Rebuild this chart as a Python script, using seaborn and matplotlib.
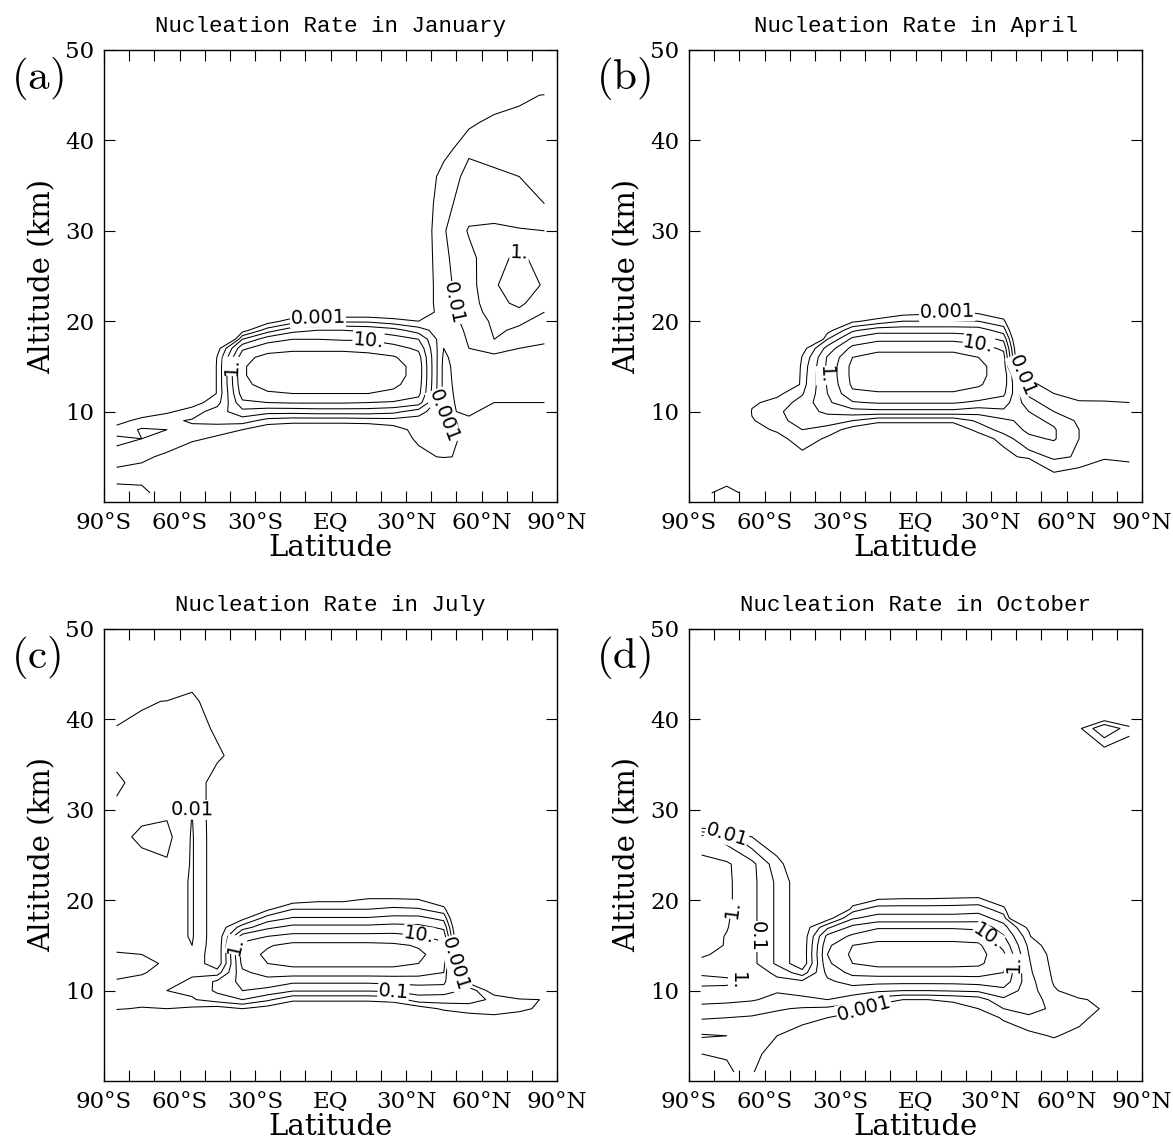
import numpy as np
import matplotlib
matplotlib.use("Agg")
import matplotlib.pyplot as plt
from matplotlib.ticker import MultipleLocator
import seaborn as sns

# ---------------- data (log10 of nucleation rate) ----------------
E = -8.0  # below the plotted range (no contour)

latitudes = [-85, -75, -65, -55, -45, -35, -25, -15, -5, 5, 15, 25, 35, 45, 55, 65, 75, 85]
altitudes_km = [1, 3, 5, 7, 8, 9, 10, 11, 12, 13, 14, 15, 16, 17, 18, 19, 20, 21, 22,
                24, 27, 30, 33, 36, 39, 42, 45, 48]

contour_levels = [-3, -2, -1, 0, 1, 2]
contour_labels = ["0.001", "0.01", "0.1", "1.", "10.", "100."]

x_tick_values = [-90, -60, -30, 0, 30, 60, 90]
x_tick_labels = ["90°S", "60°S", "30°S", "EQ", "30°N", "60°N", "90°N"]
y_tick_values = [10, 20, 30, 40, 50]

months = ["January", "April", "July", "October"]
panel_tags = ["(a)", "(b)", "(c)", "(d)"]

jan_log10_rate = [
    [-2.5, -2.7, -3.6, E, E, E, E, E, E, E, E, E, E, E, E, E, E, E],
    [-3.5, -3.4, -3.8, E, E, E, E, E, E, E, E, E, E, E, E, E, E, E],
    [-2.3, -2.8, -3.2, -4.0, E, E, E, E, E, E, E, E, -3.5, -2.8, -3.4, E, E, E],
    [-1.8, -2.0, -2.4, -2.8, -3.2, -3.8, E, E, E, E, E, -4.0, -2.7, -2.6, -3.3, E, E, E],
    [-2.5, -1.9, -2.0, -2.2, -2.6, -3.0, -3.8, -4.0, -4.0, -4.0, -4.0, -3.5, -2.6, -2.7, -3.2, -3.6, -3.6, -3.6],
    [-3.5, -2.6, -2.2, -1.9, -1.6, -1.5, -2.4, -2.6, -2.6, -2.6, -2.5, -2.4, -2.5, -2.9, -3.1, -3.4, -3.3, -3.3],
    [E, -3.8, -3.2, -2.5, -1.5, -0.3, -0.6, -0.6, -0.5, -0.5, -0.5, -0.7, -1.5, -3.1, -2.9, -3.2, -3.2, -3.2],
    [E, E, -4.0, -3.5, -2.4, 0.8, 1.0, 1.1, 1.1, 1.1, 1.0, 0.9, 0.5, -3.3, -2.6, -3.0, -3.0, -3.0],
    [E, E, E, E, -2.8, 1.5, 1.9, 2.0, 2.0, 2.0, 2.0, 1.8, 1.3, -3.3, -2.5, -2.8, -2.8, -2.9],
    [E, E, E, E, -2.8, 1.8, 2.3, 2.4, 2.4, 2.4, 2.4, 2.2, 1.5, -3.3, -2.4, -2.7, -2.8, -2.8],
    [E, E, E, E, -2.8, 1.9, 2.5, 2.6, 2.6, 2.6, 2.6, 2.4, 1.6, -3.3, -2.3, -2.6, -2.7, -2.7],
    [E, E, E, E, -2.8, 1.9, 2.5, 2.6, 2.6, 2.6, 2.6, 2.4, 1.6, -3.3, -2.2, -2.5, -2.6, -2.6],
    [E, E, E, E, -2.9, 1.7, 2.3, 2.4, 2.4, 2.4, 2.3, 2.1, 1.4, -3.2, -2.1, -2.3, -2.5, -2.5],
    [E, E, E, E, -3.5, 0.8, 1.6, 1.8, 1.8, 1.8, 1.7, 1.4, 0.8, -3.0, -2.0, -1.5, -2.0, -2.2],
    [E, E, E, E, E, -1.0, 0.6, 1.0, 1.0, 0.9, 0.9, 0.5, 0.0, -2.8, -1.9, -1.0, -1.4, -1.8],
    [E, E, E, E, E, -3.5, -1.5, -0.3, 0.0, 0.0, -0.2, -0.6, -1.5, -2.7, -1.8, -0.9, -1.1, -1.5],
    [E, E, E, E, E, E, -3.5, -2.5, -2.5, -2.2, -2.2, -2.6, -3.0, -2.5, -1.7, -0.8, -0.9, -1.2],
    [E, E, E, E, E, E, E, -4.0, -3.8, -4.0, -4.0, -4.0, -4.0, -2.4, -1.6, -0.5, -0.2, -1.0],
    [E, E, E, E, E, E, E, E, E, E, E, E, -4.0, -2.3, -1.5, -0.3, 0.2, -0.6],
    [E, E, E, E, E, E, E, E, E, E, E, E, -4.0, -2.3, -1.4, -0.1, 0.5, -0.1],
    [E, E, E, E, E, E, E, E, E, E, E, E, -4.0, -2.2, -1.3, -0.3, 0.2, -0.4],
    [E, E, E, E, E, E, E, E, E, E, E, E, -4.0, -2.1, -0.9, -0.7, -0.9, -1.0],
    [E, E, E, E, E, E, E, E, E, E, E, E, -4.0, -2.3, -1.5, -1.8, -1.9, -2.0],
    [E, E, E, E, E, E, E, E, E, E, E, E, -4.5, -2.4, -1.8, -1.9, -2.0, -2.1],
    [E, E, E, E, E, E, E, E, E, E, E, E, E, -3.5, -2.1, -2.2, -2.2, -2.1],
    [E, E, E, E, E, E, E, E, E, E, E, E, E, E, -3.3, -2.6, -2.4, -2.3],
    [E, E, E, E, E, E, E, E, E, E, E, E, E, E, E, -4.0, -3.4, -2.9],
    [E, E, E, E, E, E, E, E, E, E, E, E, E, E, E, E, E, E],
]

apr_log10_rate = [
    [-3.2, -2.7, -3.3, E, E, E, E, E, E, E, E, E, E, E, E, E, E, E],
    [E, -3.5, E, E, E, E, E, E, E, E, E, E, E, E, -3.2, -3.6, E, -4.0],
    [E, E, E, E, -3.4, E, E, E, E, E, E, E, -3.6, -2.5, -1.8, -2.1, -2.2, -2.6],
    [E, E, E, -3.5, -2.3, -3.2, E, E, E, E, E, -3.8, -2.5, -1.2, -0.9, -2.0, -2.2, -2.3],
    [E, E, -3.5, -2.8, -2.0, -2.4, -3.5, -4.0, -4.0, -4.0, -4.0, -2.6, -1.6, -0.8, -0.9, -2.0, -2.2, -2.4],
    [E, E, -3.1, -2.3, -1.6, -1.5, -2.0, -2.7, -2.7, -2.7, -2.7, -1.8, -1.2, -0.7, -1.2, -2.2, -2.4, -2.5],
    [E, E, -2.9, -2.2, -1.4, -0.8, -0.4, -0.3, -0.3, -0.3, -0.3, -0.6, -0.2, -1.0, -2.0, -2.6, -2.7, -2.8],
    [E, E, -3.2, -2.6, -1.6, -0.2, 0.9, 1.1, 1.1, 1.1, 1.1, 0.8, 0.5, -1.6, -2.6, -2.9, -2.9, -3.0],
    [E, E, E, -3.3, -2.1, 0.0, 1.8, 1.9, 1.9, 1.9, 1.9, 1.7, 1.2, -2.2, -3.0, -3.4, -3.5, -3.6],
    [E, E, E, E, -2.4, 0.1, 2.2, 2.4, 2.4, 2.4, 2.4, 2.1, 1.5, -2.7, -3.5, E, E, E],
    [E, E, E, E, -2.5, 0.2, 2.3, 2.6, 2.6, 2.6, 2.6, 2.2, 1.6, -3.3, E, E, E, E],
    [E, E, E, E, -2.6, 0.2, 2.3, 2.6, 2.6, 2.6, 2.6, 2.2, 1.6, E, E, E, E, E],
    [E, E, E, E, -2.9, 0.1, 2.0, 2.4, 2.4, 2.4, 2.4, 2.0, 1.4, E, E, E, E, E],
    [E, E, E, E, -3.5, -0.6, 1.3, 1.7, 1.7, 1.7, 1.7, 1.5, 0.8, E, E, E, E, E],
    [E, E, E, E, E, -2.0, 0.3, 0.8, 0.8, 0.8, 0.8, 0.5, -0.2, E, E, E, E, E],
    [E, E, E, E, E, -3.5, -1.2, -0.4, -0.4, -0.4, -0.4, -0.5, -1.5, E, E, E, E, E],
    [E, E, E, E, E, E, -3.2, -2.6, -2.0, -2.0, -2.0, -2.0, -2.7, E, E, E, E, E],
    [E, E, E, E, E, E, E, -4.0, -3.5, -3.3, -2.9, -3.2, -4.0, E, E, E, E, E],
    [E, E, E, E, E, E, E, E, E, E, E, E, E, E, E, E, E, E],
    [E, E, E, E, E, E, E, E, E, E, E, E, E, E, E, E, E, E],
    [E, E, E, E, E, E, E, E, E, E, E, E, E, E, E, E, E, E],
    [E, E, E, E, E, E, E, E, E, E, E, E, E, E, E, E, E, E],
    [E, E, E, E, E, E, E, E, E, E, E, E, E, E, E, E, E, E],
    [E, E, E, E, E, E, E, E, E, E, E, E, E, E, E, E, E, E],
    [E, E, E, E, E, E, E, E, E, E, E, E, E, E, E, E, E, E],
    [E, E, E, E, E, E, E, E, E, E, E, E, E, E, E, E, E, E],
    [E, E, E, E, E, E, E, E, E, E, E, E, E, E, E, E, E, E],
    [E, E, E, E, E, E, E, E, E, E, E, E, E, E, E, E, E, E],
]

jul_log10_rate = [
    [E, E, E, E, E, E, E, E, E, E, E, E, E, E, E, E, E, E],
    [E, E, E, E, E, E, E, E, E, E, E, E, E, E, E, E, E, E],
    [E, E, E, E, E, E, E, E, E, E, E, E, E, E, E, E, E, E],
    [-4.0, -4.0, E, E, -4.0, -4.0, E, E, E, E, E, E, E, -4.0, -3.5, -3.2, -3.4, -4.0],
    [-2.9, -3.1, -3.0, -3.2, -3.5, -3.0, -3.5, -4.0, -4.0, -4.0, -4.0, -4.0, -3.6, -2.8, -2.5, -2.6, -2.8, -3.2],
    [-2.7, -2.5, -2.3, -2.1, -1.5, -1.0, -1.8, -2.8, -2.8, -2.8, -2.8, -2.6, -1.4, -1.5, -1.6, -2.2, -2.6, -3.1],
    [-2.6, -2.3, -2.0, -1.8, -0.8, 0.0, -0.3, -0.9, -0.9, -0.9, -0.9, -0.8, -0.6, -0.6, -1.2, -3.8, E, E],
    [-2.9, -2.7, -2.2, -1.9, -0.8, 0.3, 0.6, 0.2, 0.2, 0.2, 0.2, 0.3, 0.4, 0.3, -3.5, E, E, E],
    [-3.3, -3.1, -2.6, -2.1, -2.5, 0.8, 1.4, 1.5, 1.5, 1.5, 1.5, 1.5, 1.4, 1.0, E, E, E, E],
    [-3.3, -3.2, -2.9, -2.2, -3.8, 1.3, 2.0, 2.3, 2.3, 2.3, 2.3, 2.3, 2.0, 1.4, E, E, E, E],
    [-3.1, -3.0, -2.8, -2.2, -3.8, 1.5, 2.2, 2.6, 2.6, 2.6, 2.6, 2.5, 2.2, 1.5, E, E, E, E],
    [-2.7, -2.6, -2.6, -2.0, -3.8, 1.3, 1.9, 2.3, 2.3, 2.3, 2.3, 2.2, 1.9, 1.3, E, E, E, E],
    [-2.6, -2.5, -2.5, -1.9, -3.8, 0.5, 1.0, 1.3, 1.3, 1.3, 1.3, 1.3, 1.1, 0.6, E, E, E, E],
    [-2.6, -2.5, -2.5, -1.9, -3.8, -1.5, -0.2, 0.3, 0.3, 0.3, 0.3, 0.4, 0.3, -0.2, E, E, E, E],
    [-2.6, -2.5, -2.5, -1.9, -3.8, -3.3, -1.5, -0.9, -0.9, -0.9, -0.9, -0.7, -0.7, -1.3, E, E, E, E],
    [-2.6, -2.5, -2.5, -1.9, -3.8, E, -3.2, -2.0, -2.0, -2.0, -2.0, -1.8, -1.9, -2.6, E, E, E, E],
    [-2.6, -2.5, -2.5, -1.9, -3.8, E, E, -3.5, -3.2, -3.2, -2.8, -2.8, -2.9, -4.0, E, E, E, E],
    [-2.6, -2.5, -2.5, -1.9, -3.8, E, E, E, E, E, -4.0, -4.0, -4.0, E, E, E, E, E],
    [-2.6, -2.5, -2.5, -1.9, -3.8, E, E, E, E, E, E, E, E, E, E, E, E, E],
    [-2.6, -2.7, -2.9, -1.9, -3.8, E, E, E, E, E, E, E, E, E, E, E, E, E],
    [-2.7, -3.2, -3.3, -1.9, -3.8, E, E, E, E, E, E, E, E, E, E, E, E, E],
    [-2.8, -2.7, -2.8, -2.0, -3.8, E, E, E, E, E, E, E, E, E, E, E, E, E],
    [-3.2, -2.6, -2.2, -2.0, -3.8, E, E, E, E, E, E, E, E, E, E, E, E, E],
    [-2.7, -2.5, -2.6, -2.3, -2.7, -3.8, E, E, E, E, E, E, E, E, E, E, E, E],
    [-2.9, -2.4, -2.3, -2.2, -3.3, E, E, E, E, E, E, E, E, E, E, E, E, E],
    [-4.0, -3.3, -2.9, -2.6, -4.0, E, E, E, E, E, E, E, E, E, E, E, E, E],
    [E, E, E, -3.8, E, E, E, E, E, E, E, E, E, E, E, E, E, E],
    [E, E, E, E, E, E, E, E, E, E, E, E, E, E, E, E, E, E],
]

oct_log10_rate = [
    [-1.9, -1.8, -2.5, E, E, E, E, E, E, E, E, E, E, E, E, E, E, E],
    [-2.0, -2.1, -2.6, -3.6, E, E, E, E, E, E, E, E, E, E, -3.8, E, E, E],
    [-3.1, -3.0, -2.8, -3.0, -3.6, E, E, E, E, E, E, E, -4.0, -3.3, -2.9, -3.4, E, E],
    [-1.9, -2.0, -2.1, -2.3, -2.6, -3.0, -3.5, E, E, E, E, -4.0, -2.8, -2.2, -2.3, -2.6, -3.6, E],
    [-1.4, -1.5, -1.6, -1.9, -2.1, -2.2, -2.6, -3.5, -4.0, -4.0, -3.5, -3.0, -2.0, -1.6, -2.2, -2.6, -3.1, E],
    [-0.6, -0.7, -0.9, -1.3, -1.2, -1.0, -1.5, -2.5, -3.0, -3.0, -2.8, -2.5, -1.2, -1.4, -2.5, -2.9, -3.2, E],
    [-0.2, -0.2, -0.4, -0.9, -0.7, -0.6, -0.5, -0.8, -1.0, -1.0, -0.9, -0.8, -0.3, -1.5, -2.9, -3.5, E, E],
    [0.2, 0.15, -0.2, -0.8, -0.8, -0.2, 0.4, 0.3, 0.3, 0.3, 0.3, 0.4, 0.6, -1.6, -3.1, E, E, E],
    [-0.1, -0.2, -0.5, -1.2, -2.6, 0.3, 1.3, 1.5, 1.5, 1.5, 1.5, 1.5, 1.0, -1.8, -3.2, E, E, E],
    [-0.2, -0.3, -0.7, -2.2, -3.8, 0.8, 2.0, 2.3, 2.3, 2.3, 2.3, 2.2, 1.3, -1.9, -3.3, E, E, E],
    [0.1, -0.2, -0.7, -2.2, -3.8, 1.0, 2.2, 2.5, 2.5, 2.5, 2.5, 2.4, 1.2, -2.0, -3.4, E, E, E],
    [0.3, -0.05, -0.7, -2.2, -3.8, 0.8, 2.0, 2.3, 2.3, 2.3, 2.3, 2.2, 0.7, -2.2, -3.8, E, E, E],
    [0.4, -0.05, -0.7, -2.2, -3.8, 0.3, 1.2, 1.6, 1.6, 1.6, 1.6, 1.5, 0.1, -2.6, E, E, E, E],
    [0.4, 0.05, -0.7, -2.2, -3.8, -1.2, 0.3, 0.9, 0.9, 0.9, 0.9, 0.8, -0.6, -3.3, E, E, E, E],
    [0.4, 0.1, -0.7, -2.2, -3.8, -3.5, -1.1, -0.6, -0.6, -0.6, -0.6, -0.5, -1.5, E, E, E, E, E],
    [0.4, 0.2, -0.7, -2.2, -3.8, E, -2.4, -1.5, -1.5, -1.5, -1.5, -1.4, -2.6, E, E, E, E, E],
    [0.4, 0.2, -0.7, -2.2, -3.8, E, -4.0, -2.9, -2.8, -2.8, -2.7, -2.6, -4.0, E, E, E, E, E],
    [0.4, 0.2, -0.7, -2.2, -3.8, E, E, -4.0, -4.0, -4.0, -4.0, -4.0, E, E, E, E, E, E],
    [0.4, 0.2, -0.7, -2.2, -3.8, E, E, E, E, E, E, E, E, E, E, E, E, E],
    [0.3, 0.15, -0.7, -2.6, -4.2, E, E, E, E, E, E, E, E, E, E, E, E, E],
    [-0.6, -1.5, -3.0, -4.0, E, E, E, E, E, E, E, E, E, E, E, E, E, E],
    [E, E, E, E, E, E, E, E, E, E, E, E, E, E, E, E, E, E],
    [E, E, E, E, E, E, E, E, E, E, E, E, E, E, E, E, E, E],
    [E, E, E, E, E, E, E, E, E, E, E, E, E, E, E, E, -3.9, -4.0],
    [E, E, E, E, E, E, E, E, E, E, E, E, E, E, E, -3.2, -1.0, -2.6],
    [E, E, E, E, E, E, E, E, E, E, E, E, E, E, E, E, E, E],
    [E, E, E, E, E, E, E, E, E, E, E, E, E, E, E, E, E, E],
    [E, E, E, E, E, E, E, E, E, E, E, E, E, E, E, E, E, E],
]

fields = [jan_log10_rate, apr_log10_rate, jul_log10_rate, oct_log10_rate]

# ---------------- style ----------------
sns.set_style("ticks")
plt.rcParams["font.family"] = ["DejaVu Serif"]
plt.rcParams["mathtext.fontset"] = "cm"
plt.rcParams["xtick.direction"] = "in"
plt.rcParams["ytick.direction"] = "in"
plt.rcParams["xtick.top"] = True
plt.rcParams["ytick.right"] = True
plt.rcParams["axes.linewidth"] = 1.0
plt.rcParams["axes.edgecolor"] = "black"
plt.rcParams["text.color"] = "black"
plt.rcParams["axes.labelcolor"] = "black"
plt.rcParams["xtick.color"] = "black"
plt.rcParams["ytick.color"] = "black"
plt.rcParams["contour.negative_linestyle"] = "solid"

W, H = 1173, 1140
fig = plt.figure(figsize=(W / 100, H / 100), dpi=100)
fig.patch.set_facecolor("white")

# axes boxes in pixels: (left, top)
boxes = [(104, 50), (689, 50), (104, 629), (689, 629)]
bw, bh = 453, 452

LAT, ALT = np.meshgrid(latitudes, altitudes_km)
fmt = {float(l): s for l, s in zip(contour_levels, contour_labels)}

renderer = fig.canvas.get_renderer()

for i, (field, month, tag) in enumerate(zip(fields, months, panel_tags)):
    left, top = boxes[i]
    ax = fig.add_axes([left / W, 1 - (top + bh) / H, bw / W, bh / H])
    Z = np.array(field, dtype=float)
    cs = ax.contour(LAT, ALT, Z, levels=contour_levels, colors="black",
                    linewidths=0.75, linestyles="solid")
    labels = ax.clabel(cs, fmt=fmt, inline=False, fontsize=14)
    kept = []
    for t in labels:
        t.set_family("DejaVu Sans")
        t.set_color("black")
        t.set_bbox(dict(facecolor="white", edgecolor="none", pad=0.3))
        bb = t.get_window_extent(renderer).expanded(1.05, 1.1)
        if any(bb.overlaps(k) for k in kept):
            t.remove()
        else:
            kept.append(bb)

    ax.set_xlim(-90, 90)
    ax.set_ylim(0, 50)
    ax.set_xticks(x_tick_values)
    ax.set_xticklabels(x_tick_labels)
    ax.xaxis.set_minor_locator(MultipleLocator(10))
    ax.set_yticks(y_tick_values)
    ax.tick_params(axis="both", which="both", length=8, width=0.8,
                   color="black", labelcolor="black", labelsize=16.5, pad=7)
    ax.set_xlabel("Latitude", fontsize=21, labelpad=0)
    ax.set_ylabel("Altitude (km)", fontsize=21, labelpad=6)
    ax.set_title(f"Nucleation Rate in {month}", fontsize=16.2, pad=13,
                 color="black", family="Liberation Mono")
    for sp in ax.spines.values():
        sp.set_color("black")
        sp.set_linewidth(1.0)
    ax.text(-0.205, 0.938, r"$\mathrm{" + tag + "}$", transform=ax.transAxes,
            fontsize=31, ha="left", va="center")

fig.savefig("out.png", dpi=100, facecolor="white")
